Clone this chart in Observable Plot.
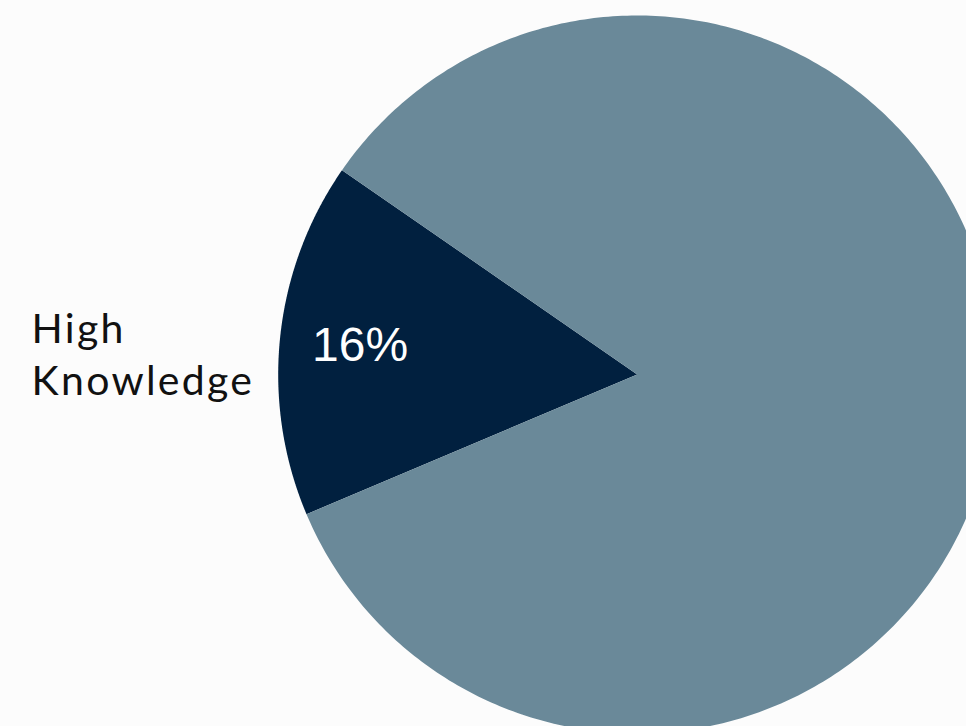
<!DOCTYPE html>
<html>
<head>
<meta charset="utf-8">
<script src="https://cdn.jsdelivr.net/npm/d3@7"></script>
<script src="https://cdn.jsdelivr.net/npm/@observablehq/plot@0.6"></script>
<style>
  html, body { margin: 0; padding: 0; background: #fcfcfc; overflow: hidden; }
  #chart svg { display: block; }
  #chart g.outer text { letter-spacing: 2.3px; font-family: Lato, sans-serif; }
  #chart g.pct text { font-family: "Liberation Sans", Arial, sans-serif; }
</style>
</head>
<body>
<div id="chart"></div>
<script>
// ---- data ----
const categories = ["High Knowledge", "Other"];
const values = [16, 84];
const sliceLabels = ["16%", ""];
const outerLabels = ["High\nKnowledge", ""];
const colors = ["#01203f", "#6a8999"];

// ---- layout ----
const W = 966, H = 726;
const cx = 636.7, cy = 374, R = 359;     // pixel centre & radius
const startDeg = 247.1;                   // clockwise from 12 o'clock, first slice start

const total = d3.sum(values);
const slices = [];
let acc = startDeg * Math.PI / 180;
categories.forEach((c, i) => {
  const a0 = acc, a1 = acc + values[i] / total * 2 * Math.PI;
  slices.push({label: c, value: values[i], a0, a1, text: sliceLabels[i], outer: outerLabels[i]});
  acc = a1;
});

// polygon points (in radius units, y up) for each slice
const pts = [];
for (const s of slices) {
  pts.push({label: s.label, x: 0, y: 0});
  const n = 400;
  for (let k = 0; k <= n; k++) {
    const a = s.a0 + (s.a1 - s.a0) * k / n;
    pts.push({label: s.label, x: Math.sin(a), y: Math.cos(a)});
  }
  pts.push({label: s.label, x: 0, y: 0});
}

const inner = slices.filter(s => s.text).map(s => {
  const m = (s.a0 + s.a1) / 2;
  return {text: s.text, x: 0.776 * Math.sin(m), y: 0.776 * Math.cos(m)};
});
const outer = slices.filter(s => s.outer).map(s => ({
  text: s.outer, x: (31 - cx) / R, y: (cy - 352) / R
}));

const chart = Plot.plot({
  width: W, height: H,
  margin: 0,
  style: {background: "#fcfcfc"},
  x: {domain: [(0 - cx) / R, (W - cx) / R], range: [0, W], axis: null},
  y: {domain: [(cy - H) / R, cy / R], range: [H, 0], axis: null},
  color: {domain: categories, range: colors},
  marks: [
    Plot.line(pts, {x: "x", y: "y", z: "label", fill: "label", stroke: "none", curve: "linear"}),
    Plot.text(inner, {x: "x", y: "y", text: "text", fill: "white", fontSize: 48,
      fontFamily: "Liberation Sans", textAnchor: "middle", lineAnchor: "middle", className: "pct"}),
    Plot.text(outer, {x: "x", y: "y", text: "text", fill: "#111", fontSize: 41, lineHeight: 1.27,
      fontFamily: "Lato", textAnchor: "start", lineAnchor: "middle", className: "outer"})
  ]
});
document.getElementById("chart").append(chart);
</script>
</body>
</html>
